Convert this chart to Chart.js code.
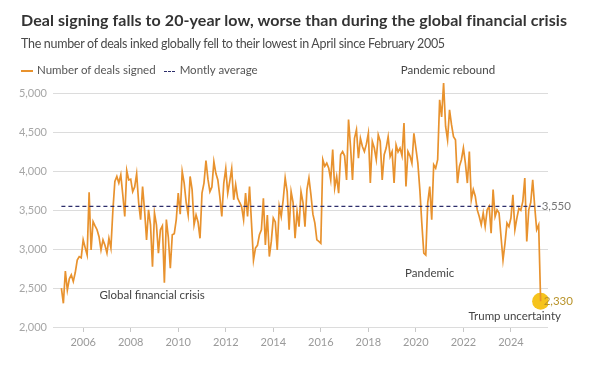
<!DOCTYPE html>
<html>
<head>
<meta charset="utf-8">
<script src="https://cdn.jsdelivr.net/npm/chart.js@4.4.1/dist/chart.umd.min.js"></script>
<style>
  body { margin: 0; background: #fff; }
  #wrap { position: relative; width: 590px; height: 365px; font-family: Lato, "Noto Sans", sans-serif; }
  #chart { position: absolute; left: 0; top: 0; }
  .title { position: absolute; left: 21px; top: 10px; font-weight: 700; font-size: 16px; letter-spacing: 0.07px; color: #333; white-space: nowrap; }
  .sub { position: absolute; left: 21px; top: 36px; font-size: 12.5px; letter-spacing: -0.3px; color: #4a4a4a; white-space: nowrap; }
  .legend { position: absolute; left: 21px; top: 63px; font-size: 11.5px; color: #555; white-space: nowrap; }
  .sw { display: inline-block; width: 12px; height: 2px; background: #e8922e; vertical-align: middle; margin-right: 4px; }
  .dash { display: inline-block; width: 11px; height: 0; border-top: 1.5px dashed #2d2e6b; vertical-align: middle; margin: 0 5px 0 8px; }
</style>
</head>
<body>
<div id="wrap">
  <canvas id="chart" width="590" height="365"></canvas>
  <div class="title">Deal signing falls to 20-year low, worse than during the global financial crisis</div>
  <div class="sub">The number of deals inked globally fell to their lowest in April since February 2005</div>
  <div class="legend"><span class="sw"></span>Number of deals signed<span class="dash"></span>Montly average</div>
</div>
<script>
// monthly deal counts, Feb 2005 .. Apr 2025
const monthlyDeals = [
  2500, 2305, 2720, 2475, 2620, 2670, 2585, 2700, 2860, 2905,
  2890, 3120, 3020, 2925, 3730, 2990, 3355, 3300, 3250, 3160,
  2990, 3120, 3050, 2950, 3140, 3015, 3500, 3870, 3935, 3850,
  3955, 3700, 3420, 4010, 3890, 3900, 3740, 3800, 3970, 3600,
  3380, 3805, 3500, 3120, 3505, 3313, 2775, 3465, 3313, 2950,
  3250, 3300, 2570, 3380, 3150, 2755, 3185, 3200, 3380, 3720,
  3450, 4000, 3850, 3600, 3440, 3935, 3765, 3313, 3440, 3350,
  3140, 3720, 3850, 4140, 3900, 3740, 3800, 4125, 3975, 3890,
  3675, 3420, 3850, 4035, 3720, 3870, 4035, 3635, 3830, 3655,
  3600, 3550, 3380, 3720, 3420, 3805, 3335, 2860, 3015, 3050,
  3185, 3250, 3655, 3055, 3440, 2905, 3100, 3400, 3350, 2990,
  3550, 3420, 3635, 3915, 3740, 3250, 3740, 3600, 3140, 3485,
  3290, 3740, 3600, 3290, 3765, 3915, 3700, 3450, 3335, 3120,
  3100, 3075, 4150, 4065, 4105, 4040, 3890, 4280, 3785, 3935,
  3720, 4215, 4255, 4200, 3890, 4665, 4320, 3890, 4425, 4535,
  4170, 4425, 4320, 4255, 4350, 4490, 3850, 4385, 4300, 4150,
  4470, 4385, 3890, 4215, 4300, 4445, 4190, 4255, 3850, 4340,
  4250, 4300, 4200, 4620, 3805, 4255, 4200, 4105, 4490, 4300,
  4105, 3765, 3335, 2950, 2925, 3600, 3805, 3380, 4085, 4040,
  4150, 4920, 4700, 5135, 4580, 4405, 4790, 4600, 4445, 4405,
  3850, 4065, 4150, 4300, 4105, 3850, 4255, 3635, 3765, 3680,
  3505, 3420, 3313, 3465, 3290, 3505, 3550, 3205, 3765, 3420,
  3505, 3465, 3160, 2860, 3075, 3335, 3290, 3400, 3700, 3250,
  3400, 3525, 3500, 3615, 3915, 3100, 3505, 3600, 3890, 3550,
  3250, 3313, 2330
]
const startYear = 2005
const startMonth = 2
const monthlyAverage = 3550
const yearTicks = [2006, 2008, 2010, 2012, 2014, 2016, 2018, 2020, 2022, 2024]
const valueTicks = [2000, 2500, 3000, 3500, 4000, 4500, 5000]

const orange = '#e8922e'
const navy = '#2d2e6b'

// decimal year for each month
const monthX = monthlyDeals.map((v, i) => startYear + (startMonth - 1 + i) / 12)
const lastIdx = monthlyDeals.length - 1

const notes = [
  { text: 'Pandemic rebound', x: 2021.35, y: 5300, align: 'center' },
  { text: 'Global financial crisis', x: 2008.9, y: 2410, align: 'center' },
  { text: 'Pandemic', x: 2020.58, y: 2695, align: 'center' },
  { text: 'Trump uncertainty', x: 2024.16, y: 2140, align: 'center' }
]

const notePlugin = {
  id: 'notes',
  afterDatasetsDraw (chart) {
    const { ctx, scales: { x, y } } = chart
    ctx.save()
    ctx.font = '11.5px Lato, "Noto Sans", sans-serif'
    ctx.textBaseline = 'middle'
    ctx.fillStyle = '#444'
    notes.forEach(n => {
      ctx.textAlign = n.align
      ctx.fillText(n.text, x.getPixelForValue(n.x), y.getPixelForValue(n.y))
    })
    ctx.textAlign = 'left'
    ctx.fillStyle = '#777'
    ctx.fillText(monthlyAverage.toLocaleString('en-US'), x.getPixelForValue(monthX[lastIdx]) + 1, y.getPixelForValue(monthlyAverage))
    ctx.fillStyle = '#b8932a'
    ctx.fillText(monthlyDeals[lastIdx].toLocaleString('en-US'), x.getPixelForValue(monthX[lastIdx]) + 3, y.getPixelForValue(monthlyDeals[lastIdx]))
    ctx.restore()
  }
}

new Chart(document.getElementById('chart'), {
  type: 'line',
  data: {
    datasets: [
      {
        label: 'Number of deals signed',
        data: monthlyDeals.map((v, i) => ({ x: monthX[i], y: v })),
        borderColor: orange,
        borderWidth: 1.7,
        pointRadius: 0,
        tension: 0,
        order: 1
      },
      {
        label: 'Montly average',
        data: [{ x: monthX[0], y: monthlyAverage }, { x: monthX[lastIdx], y: monthlyAverage }],
        borderColor: navy,
        borderWidth: 1.2,
        borderDash: [4, 3],
        pointRadius: 0,
        order: 0
      },
      {
        label: 'latest',
        data: [{ x: monthX[lastIdx], y: monthlyDeals[lastIdx] }],
        backgroundColor: '#f6c31c',
        borderWidth: 0,
        pointRadius: 8.5,
        showLine: false,
        order: 3
      }
    ]
  },
  options: {
    responsive: false,
    animation: false,
    layout: { padding: { top: 78, right: 42, left: 0, bottom: 0 } },
    plugins: { legend: { display: false }, tooltip: { enabled: false } },
    scales: {
      x: {
        type: 'linear',
        min: 2004.73,
        max: 2025.56,
        afterBuildTicks: s => { s.ticks = yearTicks.map(v => ({ value: v })) },
        afterFit: s => { s.height = 38 },
        grid: { drawOnChartArea: false, drawTicks: true, tickLength: 5, color: '#c8c8c8' },
        border: { display: false },
        ticks: { color: '#9a9a9a', font: { family: 'Lato', size: 11 }, padding: 4, maxRotation: 0, callback: v => String(v) }
      },
      y: {
        min: 2000,
        max: 5200,
        afterBuildTicks: s => { s.ticks = valueTicks.map(v => ({ value: v })) },
        afterFit: s => { s.width = 53 },
        grid: { color: '#dcdcdc', drawTicks: false },
        border: { display: false },
        ticks: { color: '#a6a6a6', font: { family: 'Lato', size: 11 }, padding: 6, callback: v => v.toLocaleString('en-US') }
      }
    }
  },
  plugins: [notePlugin]
})
</script>
</body>
</html>
